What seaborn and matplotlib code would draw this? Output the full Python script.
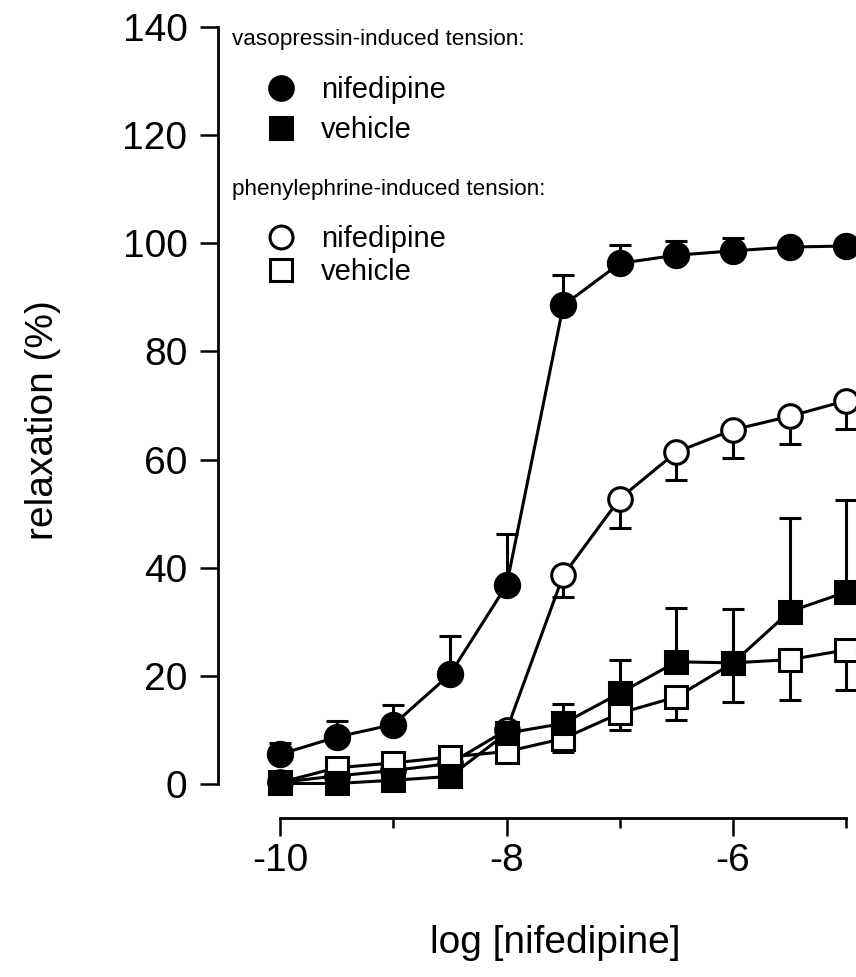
import matplotlib
matplotlib.use("Agg")
import numpy as np
import pandas as pd
import matplotlib.pyplot as plt
import seaborn as sns
from matplotlib.lines import Line2D

# ---- data ----
log_conc = [-10, -9.5, -9, -8.5, -8, -7.5, -7, -6.5, -6, -5.5, -5]
vaso_nif = [5.5, 8.7, 11.0, 20.3, 36.8, 88.5, 96.3, 97.8, 98.6, 99.3, 99.5]
vaso_nif_sem = [2.1, 3.0, 3.6, 7.0, 9.4, 5.6, 3.3, 2.7, 2.3, 0.8, 0.6]
vaso_veh = [0.1, 0.1, 0.7, 1.4, 9.4, 11.2, 16.8, 22.6, 22.4, 31.9, 35.5]
vaso_veh_sem = [0, 0, 0, 0, 1.9, 3.6, 6.2, 9.9, 9.9, 17.3, 17.0]
phen_nif = [0.3, 1.5, 2.5, 3.8, 10.0, 38.6, 52.8, 61.4, 65.5, 68.0, 70.9]
phen_nif_sem = [0, 0, 0, 0, 0, 4.1, 5.5, 5.2, 5.2, 5.2, 5.3]
phen_veh = [0.3, 3.0, 3.9, 5.0, 6.0, 8.4, 13.1, 16.1, 22.4, 23.0, 24.8]
phen_veh_sem = [0, 0, 0, 0, 0, 2.4, 3.2, 4.3, 7.2, 7.5, 7.4]

x_ticks = [-10, -8, -6]
x_minor = [-9, -7, -5]
y_ticks = [0, 20, 40, 60, 80, 100, 120, 140]

sns.set_theme(style="ticks")
plt.rcParams["font.family"] = ["Liberation Sans", "DejaVu Sans"]
plt.rcParams["text.color"] = "black"
plt.rcParams["axes.labelcolor"] = "black"
plt.rcParams["xtick.color"] = "black"
plt.rcParams["ytick.color"] = "black"
plt.rcParams["axes.edgecolor"] = "black"

fig = plt.figure(figsize=(8.56, 9.77), dpi=100)
ax = fig.add_axes([218 / 856, 1 - 784 / 977, 639.6 / 856, 757 / 977])

LW = 2.2
series = [
    # values, sem, direction, marker, face, size, zorder
    (phen_nif, phen_nif_sem, "down", "o", "white", 17, 3),
    (phen_veh, phen_veh_sem, "down", "s", "white", 15.5, 4),
    (vaso_nif, vaso_nif_sem, "up", "o", "black", 17.5, 5),
    (vaso_veh, vaso_veh_sem, "up", "s", "black", 15.5, 6),
]

for vals, sem, direction, mk, face, ms, z in series:
    df = pd.DataFrame({"x": log_conc, "y": vals})
    sem = np.asarray(sem, dtype=float)
    zeros = np.zeros_like(sem)
    yerr = [sem, zeros] if direction == "down" else [zeros, sem]
    ax.errorbar(df["x"], df["y"], yerr=yerr, fmt="none", ecolor="black",
                elinewidth=LW, capsize=7.9, capthick=LW, zorder=z - 0.5,
                clip_on=False)
    sns.lineplot(data=df, x="x", y="y", ax=ax, color="black", linewidth=LW,
                 marker=mk, markersize=ms, markerfacecolor=face,
                 markeredgecolor="black", markeredgewidth=LW,
                 errorbar=None, zorder=z, clip_on=False)

ax.set_xlim(-10.55, -4.9)
ax.set_ylim(0, 140)

for s in ["top", "right"]:
    ax.spines[s].set_visible(False)
ax.spines["left"].set_bounds(0, 140)
ax.spines["left"].set_linewidth(2.0)
ax.spines["bottom"].set_position(("outward", 24.5))
ax.spines["bottom"].set_bounds(-10, -5)
ax.spines["bottom"].set_linewidth(2.0)

ax.set_yticks(y_ticks)
ax.set_yticklabels([str(v) for v in y_ticks])
ax.set_xticks(x_ticks)
ax.set_xticklabels([str(v) for v in x_ticks])
ax.set_xticks(x_minor, minor=True)
ax.tick_params(axis="y", direction="out", length=13, width=1.8, pad=9,
               labelsize=28, colors="black")
ax.tick_params(axis="x", which="major", direction="out", length=13, width=1.8,
               pad=5, labelsize=28, colors="black")
ax.tick_params(axis="x", which="minor", direction="out", length=7, width=1.8)

ax.set_ylabel("relaxation (%)", fontsize=28)
ax.set_xlabel("log [nifedipine]", fontsize=28)
ax.yaxis.set_label_coords(-0.246, 0.481)
ax.xaxis.set_label_coords(0.528, -0.186)
ax.grid(False)

# ---- legend ----
fig.text(232 / 856, 1 - 40 / 977, "vasopressin-induced tension:", fontsize=16.2,
         ha="left", va="center")
fig.text(232 / 856, 1 - 189 / 977, "phenylephrine-induced tension:", fontsize=16.2,
         ha="left", va="center")

def handle(mk, face, ms):
    return Line2D([], [], linestyle="none", marker=mk, markersize=ms,
                  markerfacecolor=face, markeredgecolor="black",
                  markeredgewidth=LW)

leg1 = ax.legend([handle("o", "black", 17), handle("s", "black", 15.5)],
                 ["nifedipine", "vehicle"], loc="upper left",
                 bbox_to_anchor=(256 / 856, 1 - 76 / 977),
                 bbox_transform=fig.transFigure, frameon=False, fontsize=21,
                 borderpad=0, borderaxespad=0, handlelength=1.74,
                 handletextpad=0.5, labelspacing=0.42)
ax.add_artist(leg1)
leg2 = ax.legend([handle("o", "white", 16.5), handle("s", "white", 15.5)],
                 ["nifedipine", "vehicle"], loc="upper left",
                 bbox_to_anchor=(256 / 856, 1 - 225 / 977),
                 bbox_transform=fig.transFigure, frameon=False, fontsize=21,
                 borderpad=0, borderaxespad=0, handlelength=1.74,
                 handletextpad=0.5, labelspacing=0.17)

fig.savefig("out.png", dpi=100)
